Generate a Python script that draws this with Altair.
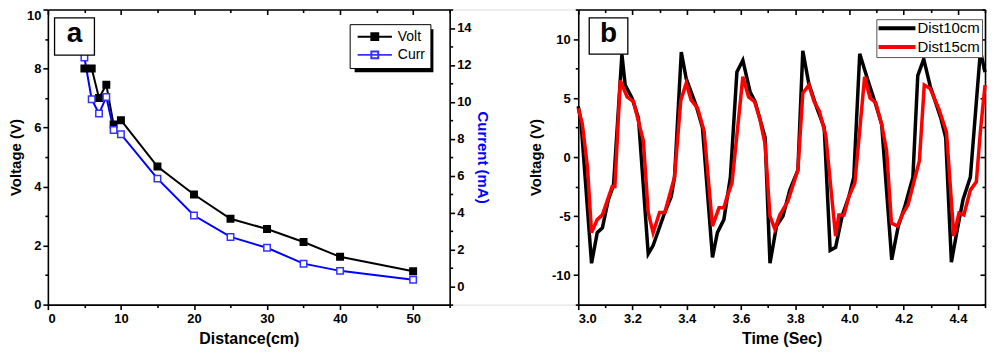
import altair as alt
import pandas as pd

FONT = "Liberation Sans"

# ---------------- Panel a data ----------------
dist_cm = [5, 6, 7, 8, 9, 10, 15, 20, 25, 30, 35, 40, 50]
volt_v = [8.0, 8.0, 7.0, 7.45, 6.1, 6.25, 4.68, 3.73, 2.91, 2.56, 2.12, 1.62, 1.13]
curr_ma = [12.4, 10.13, 9.36, 10.26, 8.47, 8.24, 5.83, 3.83, 2.67, 2.08, 1.22, 0.83, 0.35]

# ---------------- Panel b data ----------------
t_10cm = [3.000, 3.010, 3.049, 3.070, 3.089, 3.111, 3.130, 3.161, 3.173, 3.198, 3.222,
          3.258, 3.276, 3.319, 3.343, 3.355, 3.380, 3.398, 3.434, 3.458, 3.495, 3.513,
          3.537, 3.561, 3.585, 3.607, 3.634, 3.652, 3.689, 3.707, 3.731, 3.755, 3.780,
          3.810, 3.828, 3.850, 3.876, 3.907, 3.929, 3.949, 3.973, 3.998, 4.016, 4.038,
          4.064, 4.095, 4.119, 4.156, 4.180, 4.204, 4.234, 4.252, 4.274, 4.298, 4.337,
          4.355, 4.376, 4.398, 4.419, 4.446, 4.483, 4.500]
v_10cm = [4.3, 3.0, -9.0, -6.4, -6.0, -3.6, -2.4, 8.7, 6.1, 5.0, 3.3,
          -8.2, -7.5, -4.7, -3.35, -1.7, 8.9, 6.65, 4.4, 2.5, -8.5, -6.4,
          -5.3, -1.7, 7.2, 8.2, 5.5, 4.7, 1.65, -9.0, -5.85, -5.0, -2.8,
          -1.1, 9.0, 6.25, 4.4, 2.5, -7.9, -7.65, -5.0, -3.35, -1.7, 8.75,
          6.8, 4.6, 2.75, -8.7, -5.85, -4.2, -1.7, 6.9, 8.3, 6.0, 3.3,
          1.65, -8.9, -6.1, -3.6, -1.7, 9.0, 7.2]

t_15cm = [3.000, 3.015, 3.034, 3.049, 3.070, 3.089, 3.125, 3.135, 3.155, 3.180, 3.204,
          3.222, 3.240, 3.258, 3.276, 3.300, 3.319, 3.355, 3.378, 3.398, 3.416, 3.440,
          3.464, 3.495, 3.519, 3.537, 3.549, 3.567, 3.607, 3.628, 3.650, 3.670, 3.689,
          3.707, 3.725, 3.743, 3.773, 3.810, 3.828, 3.850, 3.870, 3.889, 3.913, 3.931,
          3.949, 3.961, 3.980, 3.998, 4.020, 4.056, 4.076, 4.097, 4.119, 4.137, 4.155,
          4.177, 4.198, 4.216, 4.258, 4.276, 4.298, 4.331, 4.358, 4.385, 4.404, 4.422,
          4.446, 4.468, 4.483, 4.500]
v_15cm = [4.15, 2.8, -0.85, -6.4, -5.3, -4.9, -2.5, -2.5, 6.5, 5.1, 4.7,
          3.0, 1.4, -4.7, -6.4, -4.7, -4.7, -1.7, 4.8, 6.25, 4.85, 4.15,
          2.2, -5.85, -4.3, -4.3, -3.35, -2.2, 6.8, 5.1, 4.7, 3.2, 1.1,
          -5.0, -6.1, -4.9, -3.75, -1.1, 5.4, 6.1, 4.7, 3.9, 1.8, -2.5,
          -6.7, -4.9, -4.9, -3.35, -2.2, 6.8, 5.0, 4.6, 2.75, 0.55, -5.6,
          -5.85, -4.75, -4.05, -0.3, 6.1, 5.8, 4.0, 2.1, -6.7, -4.75, -4.9,
          -2.8, -2.1, 2.2, 6.1]

# ---------------- tick values ----------------
xa_major = [0, 10, 20, 30, 40, 50]
xa_minor = [5, 15, 25, 35, 45, 55]
yv_major = [0, 2, 4, 6, 8]
yv_top = [10]
yv_minor = [1, 3, 5, 7, 9]
yc_major = [0, 2, 4, 6, 8, 10, 12, 14]
yc_minor = [-1, 1, 3, 5, 7, 9, 11, 13, 15]
xb_major = [3.0, 3.2, 3.4, 3.6, 3.8, 4.0, 4.2, 4.4]
xb_minor = [3.1, 3.3, 3.5, 3.7, 3.9, 4.1, 4.3, 4.5]
yb_major = [-10, -5, 0, 5, 10]
yb_minor = [-12.5, -7.5, -2.5, 2.5, 7.5, 12.5]

# layout (pixels inside the one plotting group)
WA, GAP, WB, H = 403, 129, 408, 296
BX0 = WA + GAP          # left edge of panel b
W = BX0 + WB            # whole group width

df_v = pd.DataFrame({"dist": dist_cm, "val": volt_v, "series": ["Volt"] * len(dist_cm)})
df_c = pd.DataFrame({"dist": dist_cm, "val": curr_ma, "series": ["Curr"] * len(dist_cm)})
df_b = pd.DataFrame({
    "t": t_10cm + t_15cm,
    "v": v_10cm + v_15cm,
    "series": ["Dist10cm"] * len(t_10cm) + ["Dist15cm"] * len(t_15cm),
})
one = pd.DataFrame({"k": [0]})

xa_scale = alt.Scale(domain=[0, 55], range=[0, WA], nice=False, zero=False)
yv_scale = alt.Scale(domain=[0, 10], nice=False, zero=False)
yc_scale = alt.Scale(domain=[-1, 15], nice=False, zero=False)
xb_scale = alt.Scale(domain=[3.0, 4.5], range=[BX0, W], nice=False, zero=False)
yb_scale = alt.Scale(domain=[-12.5, 12.5], nice=False, zero=False)

AXCOMMON = dict(grid=False, domainColor="black", domainWidth=1.6, tickColor="black",
                tickWidth=1.6, labelFont=FONT, labelFontSize=13, labelFontWeight="bold",
                labelColor="black", titleFont=FONT, titleFontSize=16, titleFontWeight="bold",
                titleColor="black")


def axis(orient, values, size, labels=False, title=None, offset=0, domain=False, **kw):
    opts = dict(AXCOMMON)
    opts.update(kw)
    return alt.Axis(orient=orient, values=values, tickSize=size, labels=labels,
                    title=title, offset=offset, domain=domain, **opts)


def xaxis_layer(df, field, scale, ax):
    return alt.Chart(df).mark_point(opacity=0).encode(
        x=alt.X(field, type="quantitative", scale=scale, axis=ax))


def yaxis_layer(df, field, scale, ax):
    return alt.Chart(df).mark_point(opacity=0).encode(
        y=alt.Y(field, type="quantitative", scale=scale, axis=ax))


# ---------------- Panel a ----------------
leg_a = alt.Legend(title=None, orient="none", legendX=302.7, legendY=14.7,
                   symbolType="M -1 0 L 1 0 M -0.2 -0.2 L 0.2 -0.2 L 0.2 0.2 L -0.2 0.2 Z",
                   symbolSize=1183, symbolStrokeWidth=2, clipHeight=15,
                   labelFont=FONT, labelFontSize=14, labelColor="black",
                   strokeColor="black", fillColor="white", padding=5,
                   rowPadding=3.3, symbolOffset=1.7, labelOffset=4.6)
stroke_scale = alt.Scale(domain=["Volt", "Curr"], range=["black", "#3333ff"])
fill_scale = alt.Scale(domain=["Volt", "Curr"], range=["black", "white"])

volt_line = alt.Chart(df_v).mark_line(color="black", strokeWidth=2).encode(
    x=alt.X("dist:Q", scale=xa_scale,
            axis=axis("bottom", xa_major, 5, labels=True, title="Distance(cm)", domain=True,
                      labelPadding=3, titlePadding=5)),
    y=alt.Y("val:Q", scale=yv_scale,
            axis=axis("left", yv_major, 5, labels=True, title="Voltage (V)", domain=True,
                      labelPadding=2, titlePadding=10, titleFontSize=15)))
curr_line = alt.Chart(df_c).mark_line(color="#0000ff", strokeWidth=2).encode(
    x=alt.X("dist:Q", scale=xa_scale, axis=None),
    y=alt.Y("val:Q", scale=yc_scale,
            axis=axis("right", yc_major, 5, labels=True, title="Current (mA)", domain=True,
                      offset=WA - W, labelPadding=2, titlePadding=3, titleColor="#0000ff",
                      titleFontSize=15)))
volt_pts = alt.Chart(df_v).mark_point(shape="square", size=42, strokeWidth=1.5, opacity=1).encode(
    x=alt.X("dist:Q", scale=xa_scale, axis=None),
    y=alt.Y("val:Q", scale=yv_scale, axis=None),
    stroke=alt.Stroke("series:N", scale=stroke_scale, legend=leg_a),
    fill=alt.Fill("series:N", scale=fill_scale, legend=leg_a))
curr_pts = alt.Chart(df_c).mark_point(shape="square", size=42, strokeWidth=1.5, opacity=1).encode(
    x=alt.X("dist:Q", scale=xa_scale, axis=None),
    y=alt.Y("val:Q", scale=yc_scale, axis=None),
    stroke=alt.Stroke("series:N", scale=stroke_scale, legend=leg_a),
    fill=alt.Fill("series:N", scale=fill_scale, legend=leg_a))

shadow_a = alt.Chart(one).mark_rect(color="black").encode(
    x=alt.value(307.7), x2=alt.value(386.7), y=alt.value(19.7), y2=alt.value(63))
box_a = alt.Chart(one).mark_rect(fill="white", stroke="black", strokeWidth=1.3).encode(
    x=alt.value(6.7), x2=alt.value(46.7), y=alt.value(8.3), y2=alt.value(45.7))
lab_a = alt.Chart(one).mark_text(text="a", font=FONT, fontSize=28, fontWeight="bold",
                                 align="center", baseline="middle", color="black").encode(
    x=alt.value(26.7), y=alt.value(25))

# ---------------- Panel b ----------------
leg_b = alt.Legend(title=None, orient="none", legendX=BX0 + 299, legendY=9.7,
                   symbolType="stroke", symbolSize=1369, symbolStrokeWidth=4, clipHeight=15,
                   labelFont=FONT, labelFontSize=15, labelColor="black",
                   strokeColor="#555555", fillColor="white", padding=1.5,
                   rowPadding=3, symbolOffset=-1.3, labelOffset=0)

lines_b = alt.Chart(df_b).mark_line(strokeWidth=3.5).encode(
    x=alt.X("t:Q", scale=xb_scale,
            axis=axis("bottom", xb_major, 5, labels=True, title="Time (Sec)", domain=True,
                      format=".1f", labelPadding=3, titlePadding=5)),
    y=alt.Y("v:Q", scale=yb_scale,
            axis=axis("left", yb_major, 5, labels=True, title="Voltage (V)", domain=True,
                      offset=-BX0, labelPadding=3, titlePadding=8, titleFontSize=15,
                      labelExpr="datum.value < 0 ? '-' + format(-datum.value, 'd') : format(datum.value, 'd')")),
    color=alt.Color("series:N", scale=alt.Scale(domain=["Dist10cm", "Dist15cm"], range=["black", "red"]),
                    legend=leg_b),
    order=alt.Order("t:Q"))

box_b = alt.Chart(one).mark_rect(fill="white", stroke="black", strokeWidth=1.3).encode(
    x=alt.value(BX0 + 11), x2=alt.value(BX0 + 49.7), y=alt.value(8.3), y2=alt.value(44.7))
lab_b = alt.Chart(one).mark_text(text="b", font=FONT, fontSize=28, fontWeight="bold",
                                 align="center", baseline="middle", color="black").encode(
    x=alt.value(BX0 + 30.3), y=alt.value(25))

chart = alt.layer(
    # panel a
    volt_line, curr_line, volt_pts, curr_pts,
    xaxis_layer(df_v, "dist", xa_scale, axis("bottom", xa_minor, 3)),
    xaxis_layer(df_v, "dist", xa_scale, axis("bottom", xa_major, 5, offset=-H, domain=True)),
    xaxis_layer(df_v, "dist", xa_scale, axis("bottom", xa_minor, 3, offset=-H)),
    yaxis_layer(df_v, "val", yv_scale, axis("left", yv_minor, 3)),
    yaxis_layer(df_v, "val", yv_scale, axis("left", yv_top, 5, labels=True, labelPadding=2,
                                            labelBaseline="top")),
    yaxis_layer(df_c, "val", yc_scale, axis("right", yc_minor, 3, offset=WA - W)),
    shadow_a, box_a, lab_a,
    # panel b
    lines_b,
    xaxis_layer(df_b, "t", xb_scale, axis("bottom", xb_minor, 3)),
    xaxis_layer(df_b, "t", xb_scale, axis("bottom", xb_major, 5, offset=-H, domain=True)),
    xaxis_layer(df_b, "t", xb_scale, axis("bottom", xb_minor, 3, offset=-H)),
    yaxis_layer(df_b, "v", yb_scale, axis("left", yb_minor, 3, offset=-BX0)),
    yaxis_layer(df_b, "v", yb_scale, axis("left", yb_major, 5, offset=-W, domain=True)),
    yaxis_layer(df_b, "v", yb_scale, axis("left", yb_minor, 3, offset=-W)),
    box_b, lab_b,
).resolve_scale(x="independent", y="independent").properties(
    width=W, height=H, padding={"left": 0, "top": 0, "right": 0, "bottom": 0}
).configure_view(stroke="transparent").configure(background="white")

chart.save("out.html", embed_options={"renderer": "svg", "actions": False})
